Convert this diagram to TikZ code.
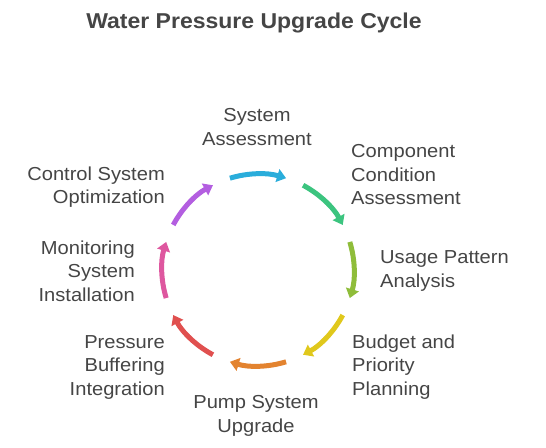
\documentclass[tikz,border=0pt]{standalone}
\usepackage{fontspec}
\setmainfont[FakeStretch=1.07]{Liberation Sans}
\usetikzlibrary{arrows.meta,calc}
\definecolor{txtgray}{HTML}{454545}
\definecolor{cBlue}{HTML}{2AADDB}
\definecolor{cGreen}{HTML}{3CC47F}
\definecolor{cLime}{HTML}{8FBD3A}
\definecolor{cYellow}{HTML}{E0C81C}
\definecolor{cOrange}{HTML}{E3832F}
\definecolor{cRed}{HTML}{E0504F}
\definecolor{cPink}{HTML}{DE579F}
\definecolor{cPurple}{HTML}{B35EE0}
\tikzset{
    step label/.style={text=txtgray, inner sep=0pt, font=\fontsize{18.8}{23.5}\selectfont},
    cycle arc/.style={line width=5pt, -{Triangle[length=9pt,width=13pt]}}
}
\begin{document}
\begin{tikzpicture}[x=1pt,y=1pt]
        \useasboundingbox (-258,-177) rectangle (288,270);
        \coordinate (O) at (0,0);
        \node (title) at (-4,247) [text=txtgray, font=\bfseries\fontsize{21.5}{25}\selectfont] {Water Pressure Upgrade Cycle};
        \foreach \ang/\col in {90/cBlue, 45/cGreen, 0/cLime, -45/cYellow, -90/cOrange, -135/cRed, 180/cPink, 135/cPurple}
            \draw[cycle arc, \col] ($(O)+(\ang+17:96pt)$) arc[start angle=\ang+17, end angle=\ang-17, radius=96pt];
        \node (sa) at (-1,143) [step label, align=center] {System\\Assessment};
        \node (cca) at (93,95) [step label, anchor=west, align=left] {Component\\Condition\\Assessment};
        \node (upa) at (122,-1) [step label, anchor=west, align=left] {Usage Pattern\\Analysis};
        \node (bpp) at (94,-97) [step label, anchor=west, align=left] {Budget and\\Priority\\Planning};
        \node (psu) at (-2,-146) [step label, align=center] {Pump System\\Upgrade};
        \node (pbi) at (-93,-97) [step label, anchor=east, align=right] {Pressure\\Buffering\\Integration};
        \node (msi) at (-123,-1) [step label, anchor=east, align=right] {Monitoring\\System\\Installation};
        \node (cso) at (-93,83) [step label, anchor=east, align=right] {Control System\\Optimization};
    \end{tikzpicture}
\end{document}
